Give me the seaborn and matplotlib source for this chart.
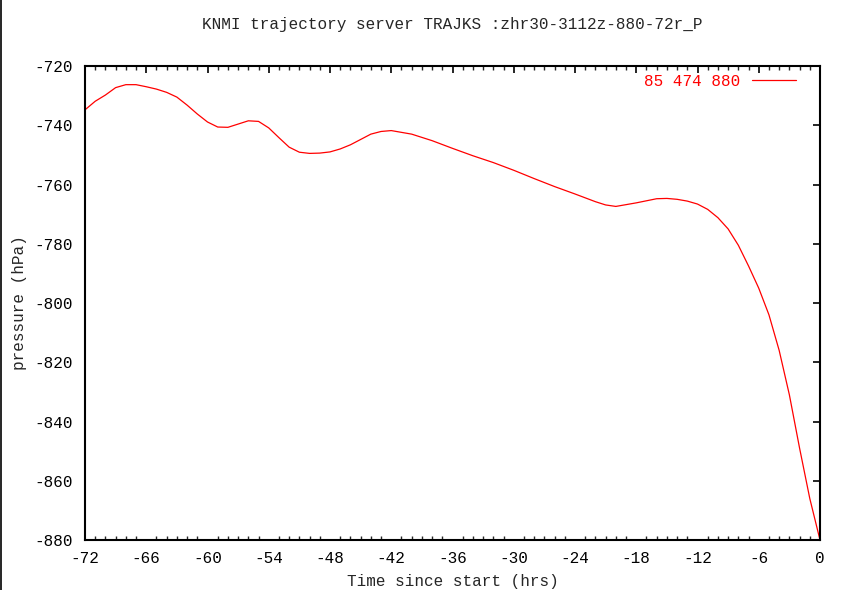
import numpy as np
import pandas as pd
import matplotlib
matplotlib.use("Agg")
import matplotlib.pyplot as plt
from matplotlib.lines import Line2D
from matplotlib.ticker import MultipleLocator
import seaborn as sns

# trajectory pressure
hours = [-72, -71, -70, -69, -68, -67, -66, -65, -64, -63, -62, -61, -60, -59, -58,
         -57, -56, -55, -54, -53, -52, -51, -50, -49, -48, -47, -46, -45, -44, -43,
         -42, -40, -38, -36, -34, -32, -30, -28, -26, -24, -22, -21, -20, -18, -16,
         -15, -14, -13, -12, -11, -10, -9, -8, -7, -6, -5, -4, -3, -2, -1, 0]
pressure = [-734.8, -731.9, -729.8, -727.3, -726.3, -726.3, -727.0, -727.8, -728.9, -730.5,
            -733.2, -736.2, -738.9, -740.6, -740.7, -739.6, -738.5, -738.7, -740.9, -744.2,
            -747.4, -749.1, -749.5, -749.4, -749.0, -748.0, -746.6, -744.8, -743.0, -742.1,
            -741.8, -743.0, -745.2, -747.8, -750.3, -752.6, -755.2, -758.0, -760.7, -763.2,
            -765.8, -766.9, -767.4, -766.2, -764.8, -764.7, -765.0, -765.6, -766.6, -768.4,
            -771.2, -775.0, -780.5, -787.5, -795.0, -804.0, -816.0, -831.0, -849.0, -866.0,
            -880.0]
series_label = "85 474 880"
title = "KNMI trajectory server TRAJKS :zhr30-3112z-880-72r_P"
xlabel = "Time since start (hrs)"
ylabel = "pressure (hPa)"
xticks = [-72, -66, -60, -54, -48, -42, -36, -30, -24, -18, -12, -6, 0]
yticks = [-720, -740, -760, -780, -800, -820, -840, -860, -880]

sns.set_style("white")
plt.rcParams['font.family'] = ['Liberation Mono', 'DejaVu Sans Mono']
plt.rcParams['axes.unicode_minus'] = False

df = pd.DataFrame({"hours": hours, "pressure": pressure})

fig = plt.figure(figsize=(8.43, 5.90), dpi=100)
ax = fig.add_axes([85 / 843, 1 - 540 / 590, 735 / 843, 474 / 590])

sns.lineplot(data=df, x="hours", y="pressure", color="red", lw=0.9,
             label=series_label, ax=ax)

ax.set_xlim(-72, 0)
ax.set_ylim(-880, -720)
ax.set_xticks(xticks)
ax.set_yticks(yticks)
ax.xaxis.set_minor_locator(MultipleLocator(1))
ax.tick_params(axis="both", which="major", direction="in", length=5, width=1.2,
               top=True, right=True, labelsize=11.5, colors="black")
ax.tick_params(axis="x", which="minor", direction="in", length=3, width=1.0,
               top=True, bottom=True)
ax.tick_params(axis="x", which="major", pad=8)
ax.tick_params(axis="y", which="major", pad=9)
for s in ax.spines.values():
    s.set_color("black")
    s.set_linewidth(1.5)

ax.set_title(title, fontsize=11.5, pad=27)
ax.set_xlabel(xlabel, fontsize=11.5, labelpad=6)
ax.set_ylabel(ylabel, fontsize=11.5, labelpad=5)

leg = ax.legend(loc="upper right", bbox_to_anchor=(0.967, 0.984), frameon=False,
                markerfirst=False, borderpad=0, borderaxespad=0, handlelength=2.75,
                handletextpad=0.75, fontsize=11.5, labelcolor="red")

# thin border on the left edge of the image
fig.add_artist(Line2D([0.0008, 0.0008], [0, 1], transform=fig.transFigure,
                      color="black", lw=1.2))

fig.savefig("out.png", dpi=100, facecolor="white")
